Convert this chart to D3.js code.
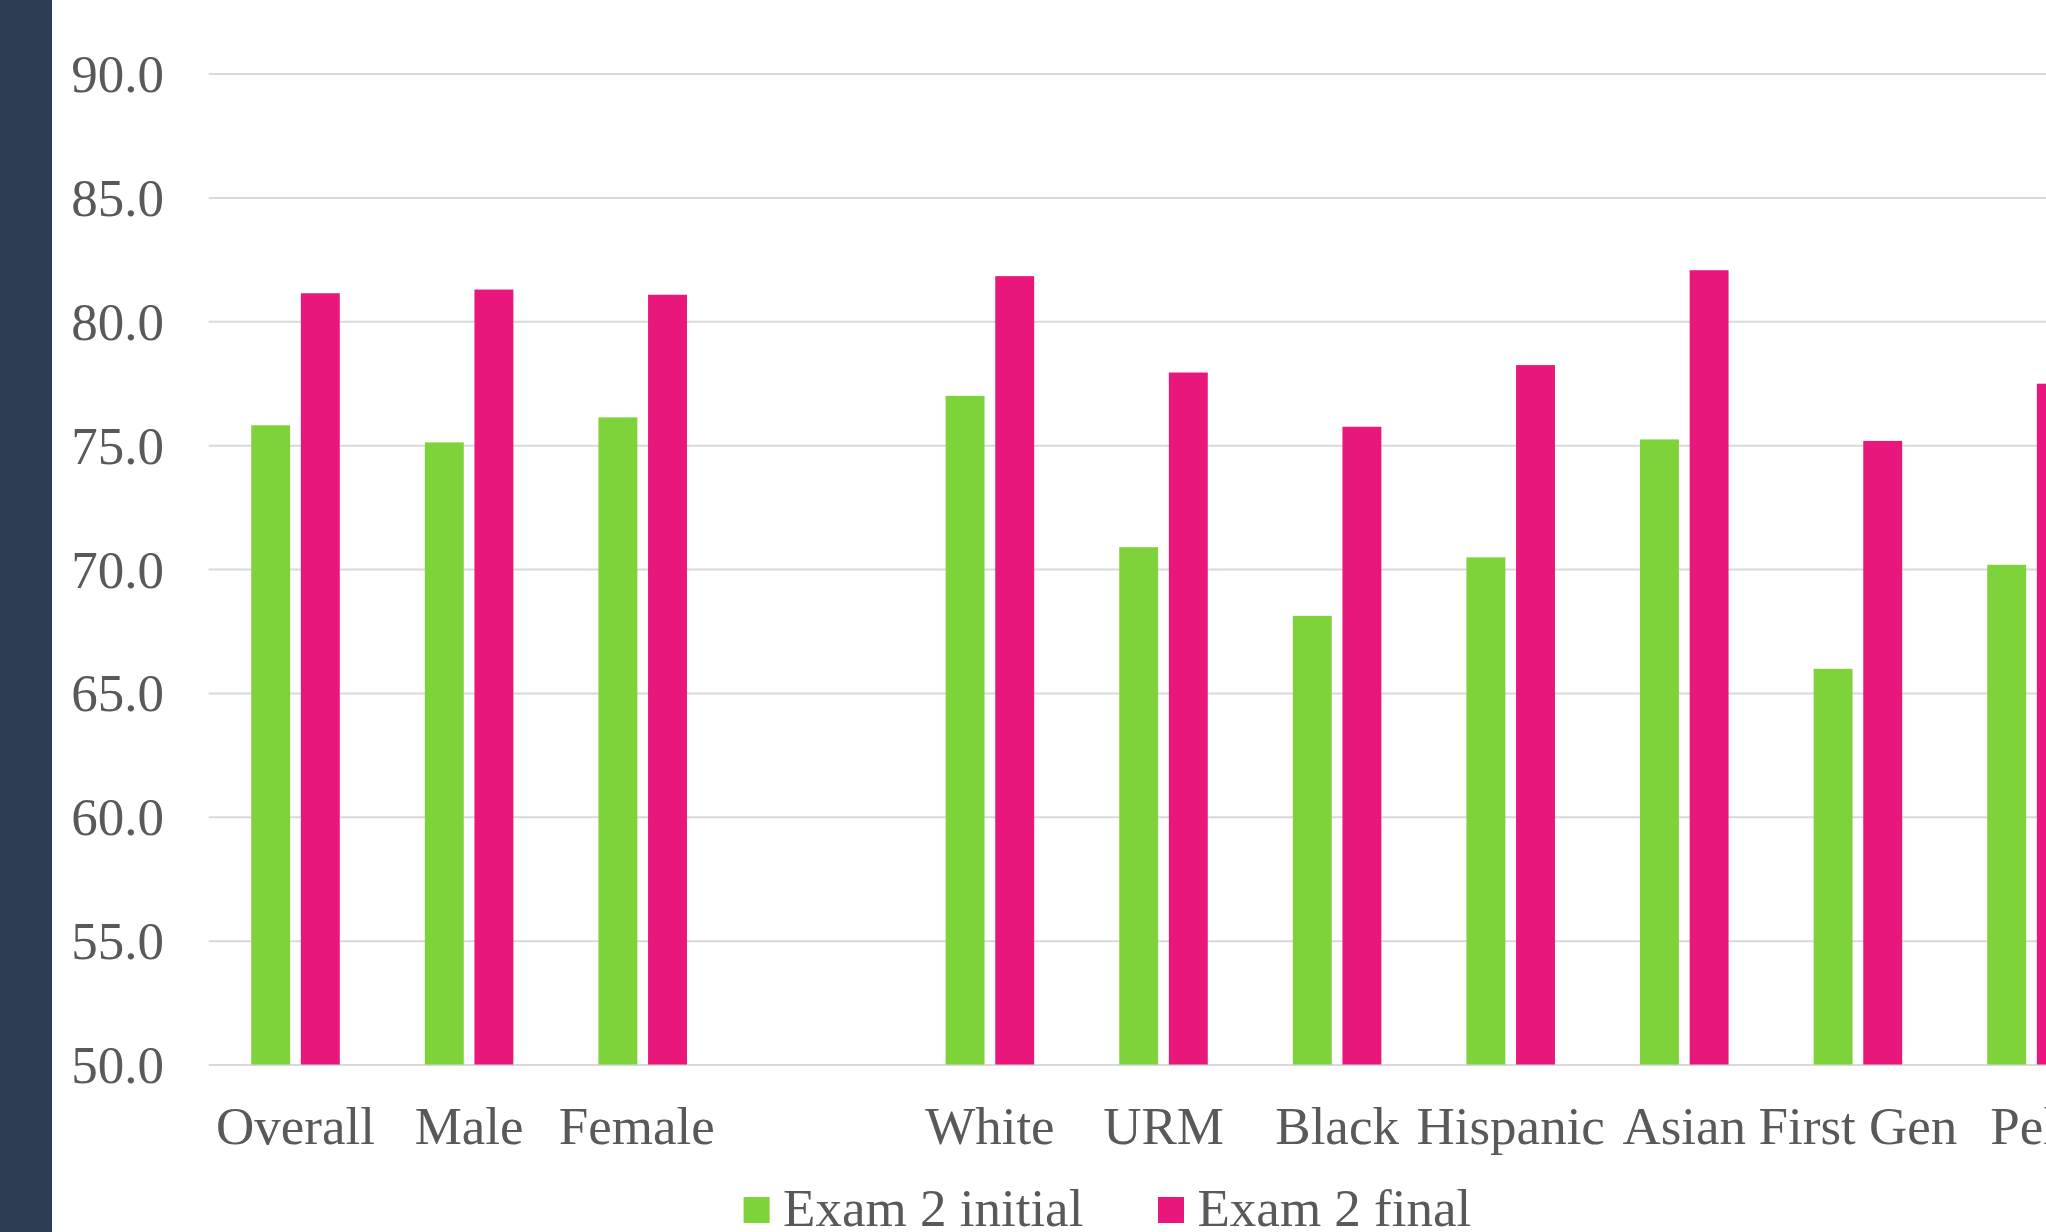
<!DOCTYPE html>
<html>
<head>
<meta charset="utf-8">
<script src="https://cdn.jsdelivr.net/npm/d3@7"></script>
<style>
  html, body { margin: 0; padding: 0; background: #ffffff; }
  svg { display: block; }
  text { font-family: "Liberation Serif", "Times New Roman", serif; fill: #595959; }
</style>
</head>
<body>
<svg id="chart" width="2046" height="1232"></svg>
<script>
// Student groups along the x axis (the empty slot separates gender from ethnicity groups)
const categories = ["Overall", "Male", "Female", " ", "White", "URM", "Black", "Hispanic", "Asian", "First Gen", "Pell"];
const seriesNames = ["Exam 2 initial", "Exam 2 final"];
const examInitial = [75.80, 75.11, 76.12, null, 76.99, 70.88, 68.11, 70.47, 75.23, 65.97, 70.17];
const examFinal   = [81.13, 81.28, 81.07, null, 81.82, 77.93, 75.74, 78.23, 82.06, 75.17, 77.48];
const yTicks = [50, 55, 60, 65, 70, 75, 80, 85, 90];
const seriesColors = ["#7ED33B", "#E9177B"];

const W = 2046, H = 1232;
const svg = d3.select("#chart");

// left navy strip
svg.append("rect").attr("x", 0).attr("y", 0).attr("width", 52).attr("height", H).attr("fill", "#2D3D54");

const plotLeft = 208.7, catStep = 173.6;
const x0 = d3.scaleBand()
  .domain(categories)
  .range([plotLeft, plotLeft + catStep * categories.length])
  .paddingInner(0.49)
  .paddingOuter(0.245);
const x1 = d3.scaleBand()
  .domain(seriesNames)
  .range([0, x0.bandwidth()])
  .paddingInner(0.216)
  .paddingOuter(0);
const y = d3.scaleLinear().domain([50, 90]).range([1064.5, 73.5]);

// horizontal gridlines
const grid = svg.append("g")
  .attr("transform", `translate(${plotLeft},0)`)
  .call(d3.axisLeft(y).tickValues(yTicks).tickSize(-(W - plotLeft + 40)).tickFormat(""));
grid.select(".domain").remove();
grid.selectAll(".tick line").attr("stroke", "#D9D9D9").attr("stroke-width", 2);

// y axis labels
const yAxis = svg.append("g")
  .attr("transform", "translate(164,0)")
  .call(d3.axisLeft(y).tickValues(yTicks).tickSize(0).tickPadding(0).tickFormat(d3.format(".1f")));
yAxis.select(".domain").remove();
yAxis.selectAll(".tick text")
  .attr("x", 0).attr("dy", "0.34em")
  .attr("text-anchor", "end")
  .style("font-size", "53px")
  .style("fill", "#595959");

// bars
const rows = categories.map((c, i) => ({ cat: c, vals: [examInitial[i], examFinal[i]] }));
const groups = svg.append("g").selectAll("g")
  .data(rows)
  .join("g")
  .attr("transform", d => `translate(${x0(d.cat)},0)`);
groups.selectAll("rect")
  .data(d => d.vals.map((v, k) => ({ key: seriesNames[k], v, k })).filter(e => e.v != null))
  .join("rect")
  .attr("x", e => x1(e.key))
  .attr("width", x1.bandwidth())
  .attr("y", e => y(e.v))
  .attr("height", e => y(50) - y(e.v))
  .attr("fill", e => seriesColors[e.k]);

// category labels
const xAxis = svg.append("g")
  .attr("transform", "translate(0,1144)")
  .call(d3.axisBottom(x0).tickSize(0).tickPadding(0));
xAxis.select(".domain").remove();
xAxis.selectAll(".tick text")
  .attr("y", 0).attr("dy", 0)
  .attr("dx", d => d === "Female" ? -6 : 0)
  .style("font-size", "53px")
  .style("fill", "#595959");

// legend
const legendItems = [
  { name: seriesNames[0], color: seriesColors[0], x: 743.6 },
  { name: seriesNames[1], color: seriesColors[1], x: 1158 }
];
const legend = svg.append("g").selectAll("g").data(legendItems).join("g")
  .attr("transform", d => `translate(${d.x},0)`);
legend.append("rect")
  .attr("x", 0).attr("y", 1197).attr("width", 26).attr("height", 26)
  .attr("fill", d => d.color);
legend.append("text")
  .attr("x", 39.5).attr("y", 1226)
  .style("font-size", "53px")
  .text(d => d.name);
</script>
</body>
</html>
